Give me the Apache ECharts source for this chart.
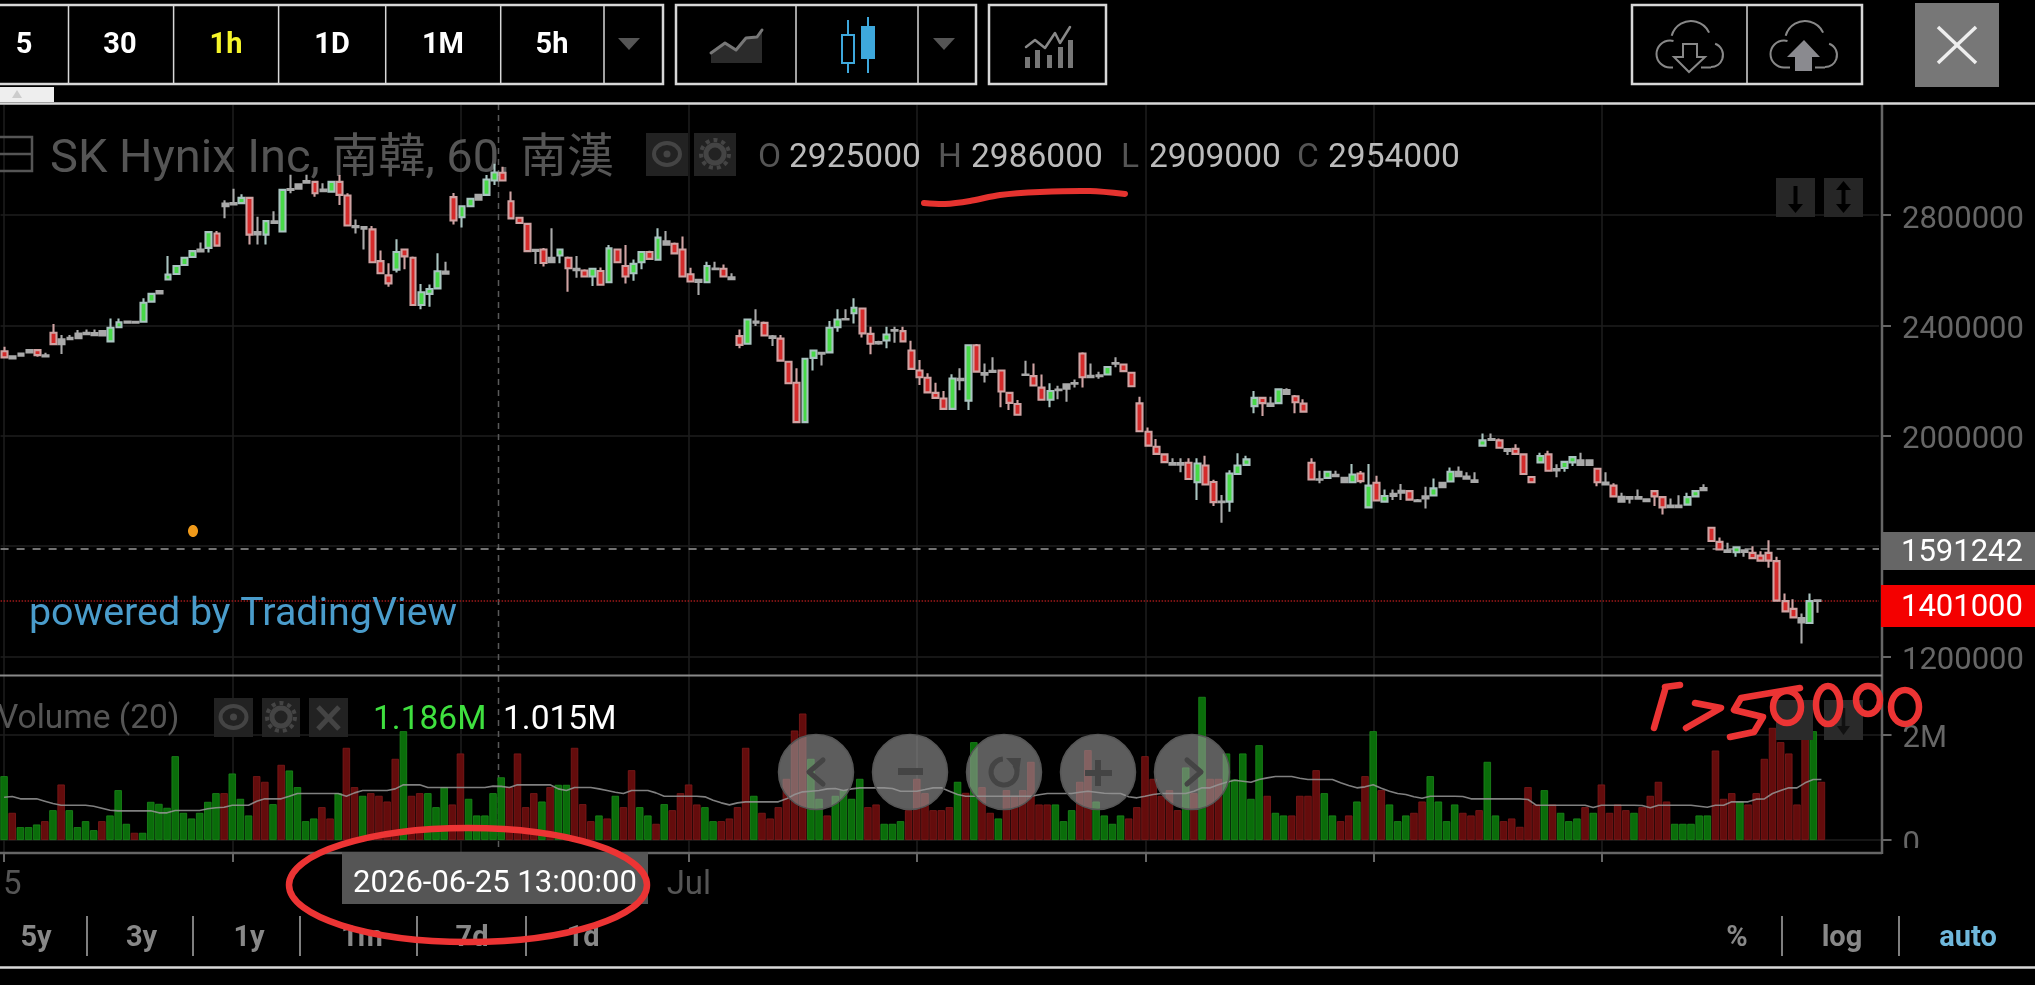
<!DOCTYPE html>
<html><head><meta charset="utf-8"><style>html,body{margin:0;padding:0;background:#000}#c{width:2035px;height:985px}</style>
<script src="https://cdn.jsdelivr.net/npm/echarts@6/dist/echarts.min.js"></script></head><body><div id="c"></div>
<script>
// prices in thousands, one entry per hourly bar
const opens=[2306,2280,2290,2302,2310,2291,2373,2332,2350,2353,2368,2372,2363,2342,2393,2410,2410,2413,2486,2516,2566,2586,2619,2648,2668,2681,2733,2832,2838,2843,2862,2738,2729,2771,2740,2891,2895,2917,2920,2892,2885,2920,2871,2760,2756,2748,2633,2581,2602,2675,2645,2474,2514,2534,2595,2865,2792,2832,2856,2873,2925,2953,2850,2790,2768,2674,2675,2629,2653,2645,2605,2599,2577,2597,2556,2675,2615,2589,2629,2666,2638,2705,2696,2675,2585,2565,2556,2604,2605,2574,2361,2333,2414,2409,2360,2352,2268,2192,2049,2282,2300,2302,2393,2421,2444,2461,2369,2339,2345,2381,2379,2309,2236,2210,2155,2135,2097,2206,2127,2328,2227,2231,2236,2155,2115,2222,2216,2174,2130,2165,2170,2188,2298,2217,2216,2222,2261,2258,2228,2117,2014,1960,1932,1901,1895,1902,1831,1892,1832,1759,1761,1861,1894,2107,2137,2108,2118,2165,2143,2116,1902,1842,1847,1858,1847,1831,1863,1740,1829,1761,1781,1793,1799,1766,1772,1783,1813,1834,1869,1852,1838,1964,1984,1983,1951,1952,1932,1850,1903,1932,1879,1883,1903,1911,1894,1880,1830,1819,1778,1771,1777,1769,1799,1777,1741,1741,1750,1780,1802,1666,1615,1584,1577,1584,1575,1565,1575,1545,1400,1372,1339,1321,1403];
const highs=[2322,2288,2298,2310,2314,2301,2405,2365,2365,2383,2385,2385,2381,2425,2425,2415,2414,2498,2516,2525,2651,2617,2647,2671,2700,2740,2742,2854,2895,2875,2866,2794,2780,2814,2893,2946,2913,2946,2924,2915,2924,2945,2879,2784,2760,2760,2671,2625,2712,2679,2650,2550,2548,2661,2631,2880,2834,2861,2876,2945,2986,2975,2885,2794,2772,2676,2680,2752,2677,2650,2651,2603,2607,2610,2691,2679,2691,2639,2668,2670,2752,2742,2700,2722,2609,2568,2631,2631,2621,2589,2385,2423,2458,2414,2365,2365,2272,2244,2281,2311,2302,2416,2458,2458,2498,2465,2395,2344,2395,2395,2395,2344,2274,2226,2192,2162,2223,2244,2330,2332,2262,2284,2240,2159,2129,2272,2262,2222,2190,2181,2188,2204,2302,2262,2232,2251,2284,2262,2232,2141,2030,1988,1936,1918,1918,1918,1918,1927,1840,1785,1875,1936,1927,2162,2141,2141,2170,2172,2147,2132,1918,1873,1871,1873,1851,1897,1872,1897,1855,1805,1805,1825,1803,1770,1815,1845,1831,1885,1888,1867,1867,2008,2008,1990,1952,1969,1936,1854,1938,1945,1896,1907,1924,1938,1913,1884,1867,1827,1793,1778,1805,1772,1803,1781,1772,1784,1793,1801,1824,1670,1631,1612,1597,1588,1599,1581,1621,1561,1428,1407,1355,1428,1404];
const lows=[2284,2280,2290,2302,2286,2286,2332,2296,2346,2353,2367,2362,2362,2342,2393,2409,2409,2413,2486,2515,2566,2586,2619,2648,2668,2664,2689,2788,2836,2843,2693,2693,2693,2770,2740,2879,2895,2916,2866,2885,2885,2836,2762,2733,2675,2629,2589,2540,2592,2603,2474,2458,2467,2534,2586,2766,2755,2832,2855,2873,2909,2925,2788,2771,2669,2622,2613,2625,2625,2522,2573,2577,2543,2547,2556,2629,2552,2562,2603,2641,2638,2692,2661,2577,2559,2510,2556,2601,2577,2566,2317,2333,2398,2363,2325,2272,2190,2049,2045,2236,2254,2302,2377,2419,2407,2356,2295,2330,2317,2337,2342,2242,2184,2157,2137,2097,2097,2165,2093,2232,2193,2230,2103,2093,2076,2216,2182,2130,2103,2132,2123,2175,2175,2210,2206,2222,2248,2234,2179,2016,1964,1934,1904,1894,1867,1843,1767,1823,1745,1684,1724,1857,1894,2081,2071,2107,2118,2151,2081,2087,1841,1827,1847,1852,1831,1831,1827,1740,1765,1761,1767,1767,1768,1761,1736,1783,1813,1834,1853,1843,1831,1964,1982,1956,1930,1934,1861,1831,1903,1873,1849,1869,1890,1894,1892,1817,1822,1780,1761,1754,1770,1760,1745,1714,1740,1740,1750,1780,1801,1618,1587,1577,1561,1561,1556,1547,1521,1402,1363,1341,1246,1321,1358];
const closes=[2284,2288,2298,2310,2292,2287,2332,2349,2355,2370,2373,2364,2379,2391,2411,2414,2413,2482,2514,2524,2584,2615,2645,2669,2675,2738,2689,2842,2843,2862,2729,2730,2778,2777,2891,2894,2911,2923,2879,2886,2920,2873,2762,2756,2750,2629,2589,2552,2666,2650,2474,2520,2532,2596,2587,2780,2832,2859,2873,2929,2954,2925,2788,2771,2669,2670,2626,2645,2675,2607,2600,2577,2605,2547,2679,2629,2577,2623,2666,2641,2718,2692,2661,2577,2559,2557,2615,2606,2577,2567,2329,2421,2410,2363,2354,2272,2190,2049,2279,2309,2297,2391,2421,2423,2464,2371,2333,2334,2367,2383,2342,2242,2212,2157,2137,2097,2207,2201,2328,2232,2221,2235,2160,2119,2076,2220,2182,2130,2162,2167,2186,2191,2212,2212,2219,2249,2263,2234,2179,2016,1964,1934,1904,1895,1901,1843,1899,1823,1759,1761,1863,1892,1914,2137,2118,2116,2168,2151,2121,2087,1841,1840,1869,1853,1831,1859,1835,1819,1765,1781,1789,1800,1768,1762,1780,1809,1829,1869,1853,1844,1832,1983,1988,1956,1945,1934,1861,1831,1926,1873,1874,1905,1922,1894,1911,1831,1823,1780,1761,1777,1771,1762,1780,1740,1747,1747,1777,1799,1810,1618,1587,1578,1595,1578,1556,1547,1547,1402,1363,1341,1323,1400,1401];
// volume in thousands; the first entry is the partly visible bar left of the first candle
const volumes=[1208,514,243,243,293,356,564,1050,564,243,356,186,356,464,943,306,136,136,722,684,609,1586,514,407,514,722,886,886,1258,779,464,1208,1101,678,1422,1315,1000,356,407,621,407,886,1744,1000,836,886,836,728,1536,2059,836,886,886,621,1000,672,1637,779,464,464,886,1186,1000,1637,621,886,728,1000,1044,1044,1744,678,356,464,407,836,621,1321,621,464,306,678,564,886,1050,672,621,356,356,407,621,1744,836,514,407,621,1157,2072,2393,1536,779,464,836,943,779,1157,621,672,306,306,356,564,1157,886,564,564,621,1101,892,1851,1000,514,407,943,836,943,1479,672,672,672,356,564,1101,1700,728,464,306,464,407,621,1586,1157,836,943,564,1372,886,2709,1157,1157,1637,1145,1637,779,1794,836,514,464,464,836,836,1321,886,464,356,464,728,1208,2059,943,672,356,464,514,728,1208,728,356,672,514,464,564,1479,464,356,407,249,1000,672,943,672,514,356,407,621,514,1050,514,672,564,514,621,836,1101,728,306,306,306,464,464,1693,779,886,728,672,886,1536,2122,1851,1637,672,2343,2059,1101];
const volumeSides="GRGGGRGRGGGGRGGGRGGGGGGGGGGRGGGRRGRGGGGRRGRRGRRRRGRRGGGRRGGGGGRRRRGRGGRRRGRGRRGGRGRRRRGGRRRRGRRRRRRGGRGGGGRRGGGRRRRRRGRGRRGRRRRRRGGGRRGGGGRRRRRRRGRGRRGGGGGRGGRRRRGGRRGRGRGGGRRGGGGRRRGGRRRRRGRGGGRGRRRRGRRRRGGGGGRRRGRRRRRRRRGR".split("");
const volumeMA=[810,823,779,779,779,735,691,659,659,659,659,640,602,564,552,552,552,552,552,514,514,558,558,558,558,590,609,621,659,659,659,735,779,779,779,829,880,880,880,880,880,880,829,892,937,937,937,937,968,1044,1044,1044,993,993,993,993,993,993,993,993,1019,1015,993,1044,1044,1044,1044,1044,968,937,993,993,993,968,937,905,880,937,937,937,892,829,829,829,829,829,817,754,703,665,703,722,722,722,722,722,779,861,911,924,937,968,974,937,968,987,987,987,987,974,924,924,924,955,987,987,924,861,829,829,829,829,829,829,829,829,829,855,880,880,880,880,905,924,905,886,880,880,817,798,829,861,880,880,880,880,924,987,987,1044,1094,1132,1113,1094,1145,1176,1201,1201,1201,1170,1145,1145,1145,1145,1082,1031,987,1006,1044,981,924,880,861,817,791,829,829,829,829,823,779,779,779,779,779,779,779,766,659,659,659,659,659,659,659,615,659,659,659,659,659,653,609,659,659,659,659,659,640,621,659,659,722,722,722,773,779,880,937,987,987,1082,1145,1145];
const priceTicks=[1200000,1600000,2000000,2400000,2800000];
const volumeTicks=[0,2000000];
const timeTicks=[0,28,56,84,112,140,168,196];
const timeLabels={1:"5",84:"Jul"};
const lastPrice=1401000, markPrice=1591242;
const quote={O:"2925000",H:"2986000",L:"2909000",C:"2954000"};
const legendVolume="1.186M", legendMA="1.015M";
const crosshairDate="2026-06-25 13:00:00";
const intervals=["5","30","1h","1D","1M","5h"];
const ranges=["5y","3y","1y","1m","7d","1d"];

const GRID='#1e1e1e',AX='#666',FONT='Roboto, "Noto Sans CJK TC", sans-serif';
const candleCount=230, volCount=231;
const cats=Array.from({length:candleCount},(_,i)=>String(i));
const vcats=Array.from({length:volCount},(_,i)=>String(i));
const candleData=opens.map((o,i)=>{
  const c=closes[i],item={value:[o*1000,c*1000,lows[i]*1000,highs[i]*1000]};
  if(Math.abs(o-c)<=17) item.itemStyle={color:'#a9a9a9',color0:'#a9a9a9',borderColor:'#a9a9a9',borderColor0:'#a9a9a9'};
  return item;
});
const volData=volumes.map((v,i)=>({value:v*1000,itemStyle:volumeSides[i]==='G'?{color:'#0a6d0a',borderColor:'#1c8a1c'}:{color:'#640c0c',borderColor:'#7f1b1b'}}));

// decoration helpers
const gfx=[];
const TOP=100;
function T(t,x,y,s,c,o={}){gfx.push({type:'text',z:o.z??TOP,x,y,style:{text:t,fontSize:s,fill:c,fontFamily:FONT,fontWeight:o.w||'normal',align:o.a||'center',verticalAlign:'middle'}});}
function R(x,y,w,h,f,o={}){gfx.push({type:'rect',z:o.z??TOP,shape:{x,y,width:w,height:h},style:{fill:f,stroke:o.s||null,lineWidth:o.lw||0}});}
function L(x1,y1,x2,y2,c,lw,o={}){gfx.push({type:'line',z:o.z??TOP,shape:{x1,y1,x2,y2},style:{stroke:c,lineWidth:lw,lineDash:o.d||null,lineCap:o.cap||'butt'}});}
function P(pts,c,lw,o={}){gfx.push({type:'polyline',z:o.z??TOP,shape:{points:pts,smooth:o.sm||0},style:{stroke:c,lineWidth:lw,fill:null,lineCap:'round',lineJoin:'round'}});}
function G(pts,f,o={}){gfx.push({type:'polygon',z:o.z??TOP,shape:{points:pts},style:{fill:f,stroke:o.s||null,lineWidth:o.lw||0}});}
function E(cx,cy,rx,ry,c,lw,o={}){gfx.push({type:'ellipse',z:o.z??TOP,shape:{cx,cy,rx,ry},style:{stroke:c,lineWidth:lw,fill:o.f||null}});}
function C(cx,cy,r,f,s,lw,o={}){gfx.push({type:'circle',z:o.z??TOP,shape:{cx,cy,r},style:{fill:f,stroke:s,lineWidth:lw,lineDash:o.d||null}});}
function A(cx,cy,r,a0,a1,c,lw){gfx.push({type:'arc',z:TOP,shape:{cx,cy,r,startAngle:a0*Math.PI/180,endAngle:a1*Math.PI/180,clockwise:true},style:{stroke:c,lineWidth:lw,fill:null}});}
function cloud(dx){
  A(1670+dx,54,13.5,90,285,'#888',2);A(1691+dx,41,20,195,335,'#888',2);A(1711+dx,55,12,290,90,'#888',2);
}
const BOX='#d8d8d8';
// top toolbar
R(-3,5,666,79,'#000',{s:BOX,lw:2.5});
[68.5,173.6,278.6,385.7,500.7,604].forEach(x=>L(x,5,x,84,BOX,1.5));
[24,120,226,332,443,552].forEach((x,i)=>T(intervals[i],x,45.5,29,intervals[i]==='1h'?'#f5f52a':'#fff',{w:'bold'}));
G([[618,38],[640,38],[629,50]],'#555');
R(676,5,300,79,'#000',{s:BOX,lw:2.5});L(796,5,796,84,BOX,1.5);L(918,5,918,84,BOX,1.5);
G([[711,63],[711,53],[725,43],[736,50],[746,38],[757,37],[762,30],[762,63]],'#2b2b2b');
P([[711,53],[725,43],[736,50],[746,38],[757,37],[762,30]],'#777',3);
L(848,20,848,73,'#3ea8dc',2);R(842,35,12,28,'#000',{s:'#3ea8dc',lw:2});
L(868,17,868,73,'#3ea8dc',2);R(861,26,14,33,'#3ea8dc');
G([[933,38],[955,38],[944,50]],'#555');
R(989,5,117,79,'#000',{s:BOX,lw:2.5});
[[1025,57],[1035,50],[1047,55],[1058,47],[1068,40]].forEach(b=>R(b[0],b[1],5,68-b[1],'#777'));
P([[1026,47],[1035,40],[1045,48],[1055,33],[1060,43],[1070,27]],'#888',2.5);
R(1632,5,230,79,'#000',{s:BOX,lw:2.5});L(1747,5,1747,84,BOX,1.5);
cloud(0);L(1670,67.5,1673,67.5,'#888',2);L(1701,67.5,1711,67.5,'#888',2);
gfx.push({type:'polygon',z:TOP,shape:{points:[[1683,44],[1697,44],[1697,57],[1705,57],[1689,72],[1674,57],[1683,57]]},style:{fill:null,stroke:'#888',lineWidth:2}});
cloud(114);L(1784,67.5,1790,67.5,'#888',2);L(1815,67.5,1825,67.5,'#888',2);
G([[1804,40],[1820,57],[1812,57],[1812,71],[1795,71],[1795,57],[1787,57]],'#8a8a8f');
R(1915,3,84,84,'#777');L(1938,27,1976,63,'#eee',3.5);L(1976,27,1938,63,'#eee',3.5);
R(0,87,54,15,'#eee');G([[12,98],[22,98],[17,90]],'#ccc');
L(0,103.5,2035,103.5,BOX,2.5);
// chart frame
L(1882,103,1882,854,AX,2.5,{z:50});
L(0,675.5,1882,675.5,'#8a8a8a',2,{z:50});
L(0,853,1882,853,AX,2.5,{z:50});
L(498.5,104,498.5,853,'#5a5a5a',1.5,{d:[6,5],z:1});
// title row
R(-6,137,38,34,null,{s:'#555',lw:2.5,z:1});L(0,154,32,154,'#555',2.5,{z:1});
T('SK Hynix Inc, 南韓, 60, 南漢',50,160,47,'#555',{a:'left',z:1});
R(646,133,42,43,'#222',{z:1});E(667,154,13,11,'#444',4,{z:1});C(667,154,3.5,'#444',null,0,{z:1});
R(694,133,42,43,'#222',{z:1});C(715,154,9,null,'#444',5,{z:1});C(715,154,14,null,'#444',4,{d:[4,4],z:1});
T('O',758,158.5,33.5,'#555',{a:'left',z:1});T(quote.O,789,158.5,33.5,'#bbb',{a:'left',z:1});
T('H',938,158.5,33.5,'#555',{a:'left',z:1});T(quote.H,971,158.5,33.5,'#bbb',{a:'left',z:1});
T('L',1121,158.5,33.5,'#555',{a:'left',z:1});T(quote.L,1149,158.5,33.5,'#bbb',{a:'left',z:1});
T('C',1297,158.5,33.5,'#555',{a:'left',z:1});T(quote.C,1328,158.5,33.5,'#bbb',{a:'left',z:1});
R(1776,178,39,39,'#262626',{z:1});R(1824,178,39,39,'#262626',{z:1});
L(1795.5,186,1795.5,208,'#000',4,{z:1});G([[1788,204],[1803,204],[1795.5,213]],'#000',{z:1});
L(1843.5,186,1843.5,208,'#000',4,{z:1});G([[1836,190],[1851,190],[1843.5,181]],'#000',{z:1});G([[1836,204],[1851,204],[1843.5,213]],'#000',{z:1});
gfx.push({type:'ellipse',z:1,shape:{cx:193,cy:531,rx:5,ry:6},style:{fill:'#f09a1a'}});
T('powered by TradingView',29,615.5,39.4,'#4a9ccb',{a:'left',z:20});
// price tags
R(1881,532,154,38,'#666');T(String(markPrice),1901,553,31,'#fff',{a:'left'});
R(1881,585,154,42,'#f40000');T(String(lastPrice),1901,608,31,'#fff',{a:'left'});
// volume legend
T('Volume (20)',-3,719.5,33.5,'#555',{a:'left'});
R(214,698,39,39,'#222');E(233.5,717,13,11,'#444',4);C(233.5,717,3.5,'#444',null,0);
R(262,698,38,39,'#222');C(281,717,9,null,'#444',5);C(281,717,14,null,'#444',4,{d:[4,4]});
R(309,698,39,39,'#222');L(318,707,339,729,'#444',5);L(339,707,318,729,'#444',5);
T(legendVolume,373,720.5,33.5,'#3fe03f',{a:'left'});T(legendMA,503,720.5,33.5,'#fff',{a:'left'});
R(1776,700,37,40,'#2a2a2a',{z:40});R(1824,700,39,40,'#2a2a2a',{z:40});
L(1843.5,708,1843.5,732,'#111',3.5,{z:40});G([[1837,726],[1850,726],[1843.5,735]],'#111',{z:40});
R(1888,848,147,8,'#000');
// pan/zoom buttons
[816,910,1004,1098,1192].forEach(x=>C(x,772,37.5,'rgba(150,150,150,0.62)','#555',1.5));
P([[823,760],[809,772],[823,784]],'#444',5);
R(898,768,25,7,'#444');
A(1004,772,13,-35,265,'#444',5);
G([[1006,758],[1021,758],[1019,772]],'#444');
R(1085,770,27,6,'#444');R(1095,760,6,26,'#444');
P([[1187,760],[1201,772],[1187,784]],'#444',5);
// date label
R(342,852,306,52,'#555',{z:60});T(crosshairDate,495,884.5,31,'#fff',{z:61});
// bottom bar
[36,141.5,249,362,472,583].forEach((x,i)=>T(ranges[i],x,938.5,29,'#888',{w:'bold'}));
[87,193,300,417,526,1782,1899].forEach(x=>L(x,916,x,956,'#aaa',1.5));
T('%',1737,938.5,29,'#888',{w:'bold'});T('log',1842,938.5,29,'#888',{w:'bold'});T('auto',1968,938.5,29,'#6fb8dc',{w:'bold'});
L(0,967.5,2035,967.5,BOX,2.5);
// hand-drawn annotations
const INK='#ec3434';
E(468,885,179,57,INK,6.5,{z:200});
P([[924,203],[945,204],[970,201],[1000,195],[1040,192],[1090,191],[1125,194]],'#e5332f',6,{z:200,sm:0.3});
P([[1665,687],[1680,685]],INK,6.5,{z:200});P([[1665,690],[1654,728]],INK,6.5,{z:200});
P([[1695,703],[1721,708],[1686,728]],INK,6.5,{z:200});
P([[1800,688],[1741,698],[1734,710],[1763,717],[1754,732],[1730,737]],INK,6.5,{z:200});
E(1787,707,14,16,INK,6.5,{z:200});E(1828,705,12,19,INK,6.5,{z:200});E(1868,700,12,14,INK,6.5,{z:200});E(1905,707,14,17,INK,6.5,{z:200});

const plainLabel={color:'#666',fontSize:31,margin:20,verticalAlign:'top',lineHeight:10};
const option={
  backgroundColor:'#000',animation:false,textStyle:{fontFamily:FONT},
  grid:[
    {left:0.6,width:1878.4,top:104.7,height:551.6},
    {left:-4.07,width:1886.6,top:676.2,height:163.8},
    {left:0.6,width:1878.4,top:104.7,height:748.3}
  ],
  xAxis:[
    {gridIndex:0,type:'category',data:cats,axisLine:{show:false},axisTick:{show:false},axisLabel:{show:false},splitLine:{show:false}},
    {gridIndex:1,type:'category',data:vcats,axisLine:{show:false},axisTick:{show:false},axisLabel:{show:false},splitLine:{show:false}},
    {gridIndex:2,type:'value',min:0,max:candleCount,interval:28,axisLine:{show:false},
      axisTick:{show:true,length:9,lineStyle:{color:AX,width:2},customValues:timeTicks},
      axisLabel:{show:true,color:'#555',fontSize:33,margin:16,customValues:Object.keys(timeLabels).map(Number),formatter:v=>timeLabels[v]||'',hideOverlap:false},
      splitLine:{show:true,lineStyle:{color:GRID,width:1.5}}}
  ],
  yAxis:[
    {gridIndex:0,type:'value',position:'right',offset:3,min:1200000,max:3200000,interval:400000,axisLine:{show:false},
      axisTick:{show:true,length:9,lineStyle:{color:AX,width:2},customValues:priceTicks},
      axisLabel:{...plainLabel,customValues:priceTicks,formatter:v=>String(v)},splitLine:{show:true,lineStyle:{color:GRID,width:1.5}}},
    {gridIndex:1,type:'value',position:'right',min:0,max:3100000,interval:2000000,axisLine:{show:false},
      axisTick:{show:true,length:9,lineStyle:{color:AX,width:2},customValues:volumeTicks},
      axisLabel:{...plainLabel,customValues:volumeTicks,formatter:v=>v?v/1e6+'M':'0'},splitLine:{show:true,lineStyle:{color:GRID,width:1.5}}},
    {gridIndex:2,type:'value',show:false}
  ],
  series:[
    {type:'candlestick',xAxisIndex:0,yAxisIndex:0,barWidth:6.4,z:5,data:candleData,
     itemStyle:{color:'#47d947',color0:'#d42a2a',borderColor:'#a9c4c0',borderColor0:'#cfa3a3',borderWidth:2.1},
     markLine:{silent:true,symbol:'none',animation:false,label:{show:false},data:[
       {yAxis:markPrice,lineStyle:{color:'#999',type:[8,8],width:1.5}},
       {yAxis:lastPrice,lineStyle:{color:'#a01a1a',type:'dotted',width:1.5}}]}},
    {type:'bar',name:'Volume',xAxisIndex:1,yAxisIndex:1,barWidth:7.4,z:5,data:volData,itemStyle:{borderWidth:0.8}},
    {type:'line',name:'Volume MA',xAxisIndex:1,yAxisIndex:1,z:6,showSymbol:false,data:volumeMA.map(v=>v*1000),lineStyle:{color:'rgba(150,150,150,0.85)',width:1.6}},
    {type:'line',name:'Time axis',xAxisIndex:2,yAxisIndex:2,data:[],silent:true}
  ],
  graphic:{elements:gfx}
};
echarts.init(document.getElementById('c')).setOption(option);
</script></body></html>
